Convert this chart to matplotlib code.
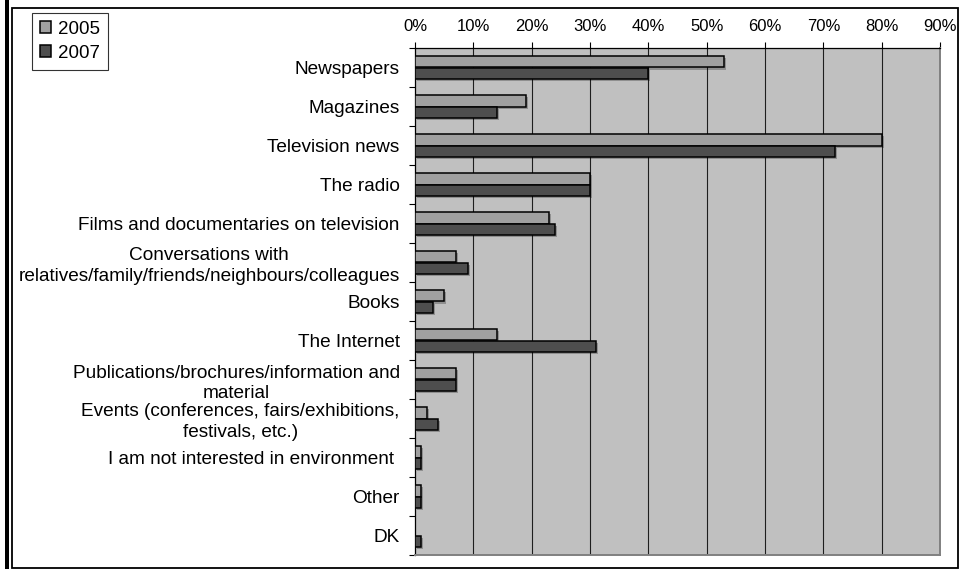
import matplotlib
matplotlib.use("Agg")
import matplotlib.pyplot as plt
import matplotlib.patheffects as pe
from matplotlib.patches import Rectangle
from matplotlib.ticker import FixedLocator, FuncFormatter
import numpy as np

plt.rcParams['font.family'] = ['Liberation Sans', 'DejaVu Sans']

categories = [
    "Newspapers",
    "Magazines",
    "Television news",
    "The radio",
    "Films and documentaries on television",
    "Conversations with\nrelatives/family/friends/neighbours/colleagues",
    "Books",
    "The Internet",
    "Publications/brochures/information and\nmaterial",
    "Events (conferences, fairs/exhibitions,\nfestivals, etc.)",
    "I am not interested in environment ",
    "Other",
    "DK",
]
values_2005 = [53, 19, 80, 30, 23, 7, 5, 14, 7, 2, 1, 1, 0]
values_2007 = [40, 14, 72, 30, 24, 9, 3, 31, 7, 4, 1, 1, 1]
series_labels = ["2005", "2007"]
x_ticks = [0, 10, 20, 30, 40, 50, 60, 70, 80, 90]

W, H = 961, 569
fig = plt.figure(figsize=(W / 100, H / 100), dpi=100)
fig.patch.set_facecolor("white")

# plot area in pixel terms
left, right, top, bottom = 415, 940, 48, 555
ax = fig.add_axes([left / W, 1 - bottom / H, (right - left) / W, (bottom - top) / H])
ax.set_facecolor("#C0C0C0")

y = np.arange(len(categories))
bar_h = 0.3
shadow = [pe.SimplePatchShadow(offset=(1.5, -1.5), shadow_rgbFace="black", alpha=0.25), pe.Normal()]
b1 = ax.barh(y - bar_h / 2, values_2005, height=bar_h, color="#A0A0A0",
             edgecolor="black", linewidth=1.1, zorder=3, label=series_labels[0])
b2 = ax.barh(y + bar_h / 2, values_2007, height=bar_h, color="#4E4E4E",
             edgecolor="black", linewidth=1.1, zorder=3, label=series_labels[1])
for bar in list(b1) + list(b2):
    if bar.get_width() > 0:
        bar.set_path_effects(shadow)

ax.set_xlim(0, 90)
ax.set_ylim(len(categories) - 0.5, -0.5)

# value axis on top
ax.xaxis.tick_top()
ax.set_xticks(x_ticks)
ax.xaxis.set_major_formatter(FuncFormatter(lambda v, p: f"{int(v)}%"))
ax.tick_params(axis="x", which="major", length=4.3, width=0.8, direction="out",
               pad=6, labelsize=12, colors="black")
for xv in x_ticks[1:-1]:
    ax.axvline(xv, color="#1E1E1E", linewidth=0.8, zorder=1)

# category axis: labels centred on categories, ticks on boundaries
ax.set_yticks(y)
ax.set_yticklabels(categories, fontsize=13.7, multialignment="center", linespacing=1.3)
ax.yaxis.set_minor_locator(FixedLocator(np.arange(-0.5, len(categories), 1.0)))
ax.tick_params(axis="y", which="major", length=0, pad=11)
ax.tick_params(axis="y", which="minor", length=4.3, width=0.8, direction="out")

for s in ["top", "left"]:
    ax.spines[s].set_color("black")
    ax.spines[s].set_linewidth(0.9)
for s in ["bottom", "right"]:
    ax.spines[s].set_color("#808080")
    ax.spines[s].set_linewidth(1.4)

leg = fig.legend(handles=[b1, b2], labels=series_labels, loc="upper left",
                 bbox_to_anchor=(32 / W, 1 - 13 / H), frameon=True, fancybox=False,
                 fontsize=13.5, handlelength=0.6, handleheight=0.6, handletextpad=0.4,
                 labelspacing=0.4, borderpad=0.4, borderaxespad=0)
leg.get_frame().set_edgecolor("black")
leg.get_frame().set_linewidth(0.8)
for h in leg.legend_handles:
    h.set_path_effects([])

# outer frame of the chart
fig.patches.append(Rectangle((5 / W, 0), 4 / W, 1, transform=fig.transFigure,
                             facecolor="black", edgecolor="none", zorder=10))
fig.patches.append(Rectangle((11.5 / W, 1 - 567.5 / H), 946 / W, 560 / H,
                             transform=fig.transFigure, facecolor="none",
                             edgecolor="black", linewidth=1.3, zorder=10))

fig.savefig("out.png", dpi=100)
